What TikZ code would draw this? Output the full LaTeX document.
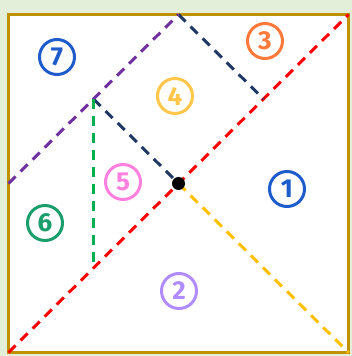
\documentclass[tikz,border=0pt]{standalone}
\usepackage{fontspec}
\setmainfont{Fira Sans}
\definecolor{bgc}{HTML}{E3EFD9}
\definecolor{gold}{HTML}{BF9000}
\definecolor{lred}{HTML}{FF0000}
\definecolor{lyel}{HTML}{FFC000}
\definecolor{lnavy}{HTML}{1F3864}
\definecolor{lpur}{HTML}{7030A0}
\definecolor{lgreen}{HTML}{00B050}
\definecolor{cblue}{HTML}{1E5CCB}
\definecolor{corange}{HTML}{FF7A3A}
\definecolor{cyellow}{HTML}{FFC64A}
\definecolor{cpink}{HTML}{FF80DF}
\definecolor{cgreen}{HTML}{1A9E6B}
\definecolor{cviolet}{HTML}{B08CFF}
\tikzset{
  dline/.style={line width=3pt, dash pattern=on 10pt off 7pt},
  numlabel/.style={circle, draw=#1, text=#1, line width=3pt, minimum size=35pt, inner sep=0pt,
    font=\fontsize{26}{26}\selectfont\bfseries}
}
\begin{document}
\begin{tikzpicture}[x=1pt,y=-1pt]
\fill[bgc] (0,0) rectangle (352,356);
\useasboundingbox (0,0) rectangle (352,356);
\filldraw[fill=white, draw=gold, line width=3.5pt] (8.5,14.5) rectangle (348.5,352.5);
% key points
\coordinate (BL) at (8.5,352.5);
\coordinate (TR) at (348.5,14.5);
\coordinate (BR) at (348.5,352.5);
\coordinate (TM) at (178.5,14.5);
\coordinate (LM) at (8.5,183.5);
\coordinate (C) at (178.5,183.5);
\coordinate (Q) at (263.5,99);
\coordinate (P) at (93.5,99);
\coordinate (G) at (93.5,268);
% lines
\draw[dline, lred] (BL) -- (TR);
\draw[dline, lyel] (C) -- (BR);
\draw[dline, lnavy] (TM) -- (Q);
\draw[dline, lnavy] (P) -- (C);
\draw[dline, lpur] (LM) -- (TM);
\draw[dline, lgreen] (P) -- (G);
\fill[black] (C) circle (6.5pt);
% labels
\node[numlabel=cblue] (n7) at (57,57) {7};
\node[numlabel=corange] (n3) at (265,41) {3};
\node[numlabel=cyellow] (n4) at (175,96) {4};
\node[numlabel=cpink] (n5) at (123,182) {5};
\node[numlabel=cblue] (n1) at (287,189) {1};
\node[numlabel=cgreen] (n6) at (45,223) {6};
\node[numlabel=cviolet] (n2) at (179,291) {2};
\end{tikzpicture}
\end{document}
